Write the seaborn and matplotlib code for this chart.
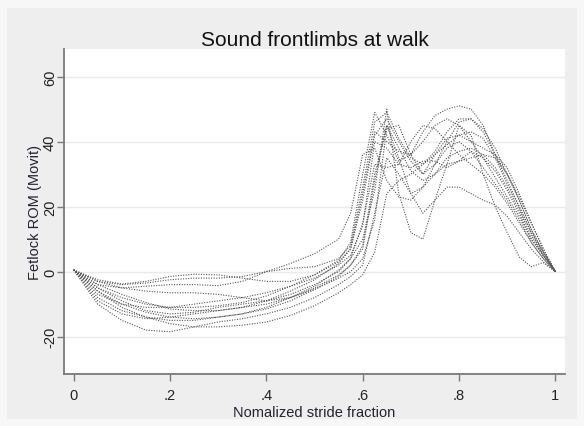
import matplotlib
matplotlib.use("Agg")
import matplotlib.pyplot as plt
import matplotlib.patches as mpatches
import numpy as np
import pandas as pd
import seaborn as sns

# Normalised stride fraction at which each trial was sampled
stride = [0, .05, .1, .15, .2, .25, .3, .35, .4, .45, .5, .55, .575, .6, .625,
          .65, .675, .7, .725, .75, .775, .8, .825, .85, .875, .9, .925, .95, .975, 1]

# Fetlock range of motion (degrees) for each trial
trial_a = [0.5, -6, -10, -12.5, -14, -14.5, -14, -13, -11, -8, -4.5, 0.5, 4, 10, 25,
           50, 24, 12, 10, 22, 33, 45, 42, 30, 20, 12, 4.5, 1.5, 2.8, 0]
trial_b = [0.5, -5, -8, -10, -11, -11, -10.5, -9.5, -7.5, -4.5, -1, 3.5, 9, 30, 49,
           42, 34, 36, 43, 48, 50, 51, 50, 45, 36, 30, 23, 15, 7, 0]
trial_c = [0.5, -8, -12, -14, -15, -15, -14, -13, -11.5, -9, -5.5, -1.5, 2, 8, 30,
           45, 35, 24, 18, 22, 26, 26, 24, 22, 20.5, 17, 12, 7, 3, 0]
trial_d = [0.5, -4, -7, -9.5, -11.5, -12, -12, -11, -9, -6, -2.5, 2.5, 7, 24, 43,
           40, 37, 36, 40, 45, 47, 45, 40, 35, 29, 23, 17, 10, 5, 0]
trial_e = [0.5, -3, -4, -3.5, -2.5, -2, -2, -1.5, 0, 2.5, 5.5, 10, 18, 36, 38,
           28, 23, 22, 26, 33, 40, 46, 47, 44, 38, 30, 22, 13, 6, 0]
trial_f = [0.5, -5, -9, -12, -13, -12.5, -11, -10, -9, -7, -4, 0, 4, 15, 33,
           32, 33, 40, 45, 44, 40, 36, 33, 30, 26, 21, 15, 9, 4, 0]
trial_g = [0.5, -6, -11, -14, -16, -17, -17, -16.5, -15.5, -13.5, -10.5, -6.5, -4, -1, 6,
           24, 28, 30, 33, 36, 39, 42, 43, 41, 35, 27, 20, 12, 5, 0]
trial_h = [0.5, -3, -5, -6, -6.5, -6.5, -7, -8, -9, -8, -5, -1, 2, 7, 28,
           45, 38, 31, 28, 30, 33, 34, 35, 36, 35, 30, 22, 13, 6, 0]
trial_i = [0.5, -7, -10, -11, -11, -10, -9, -8, -6.5, -4.5, -2, 2, 5, 14, 40,
           38, 33, 32, 34, 34, 32, 34, 37, 35, 31, 25, 18, 10, 5, 0]
trial_j = [0.5, -9, -13, -14.5, -14, -13, -12, -11, -10, -8, -5.5, -2, 0, 4, 16,
           44, 45, 36, 30, 33, 38, 40, 37, 32, 27, 22, 16, 9, 4, 0]
trial_k = [0.5, -10, -15, -18, -18.5, -17, -15.5, -14.5, -13, -11, -8, -4, -1.5, 2, 18,
           35, 30, 24, 26, 30, 35, 37, 38, 36, 32, 26, 19, 11, 5, 0]
trial_l = [0.5, -2.5, -3.8, -3, -1.5, -0.8, -1, -2, -3, -3, -1, 3, 7, 22, 42,
           47, 40, 34, 30, 36, 41, 42, 40, 38, 36, 32, 24, 15, 7, 0]
trial_m = [0.5, -4, -5, -4.5, -4, -4, -4.3, -3, 0, 1, 1.5, 4, 8, 26, 46,
           49, 41, 35, 33, 37, 43, 47, 47, 43, 36, 28, 20, 12, 6, 0]

trials = {"A": trial_a, "B": trial_b, "C": trial_c, "D": trial_d, "E": trial_e,
          "F": trial_f, "G": trial_g, "H": trial_h, "I": trial_i, "J": trial_j,
          "K": trial_k, "L": trial_l, "M": trial_m}

df = pd.concat(
    [pd.DataFrame({"stride": stride, "rom": vals, "trial": name})
     for name, vals in trials.items()],
    ignore_index=True,
)

sns.set_style("white")
plt.rcParams["font.family"] = ["Liberation Sans", "DejaVu Sans"]

fig = plt.figure(figsize=(5.84, 4.27), dpi=100, facecolor="#f7f7f7")
# graph region panel behind the plot
fig.patches.append(mpatches.Rectangle((7 / 584, 7 / 427), 570 / 584, 411 / 427,
                                      transform=fig.transFigure, facecolor="#eeeeee",
                                      edgecolor="none", zorder=-5))
ax = fig.add_axes([64 / 584, 52 / 427, 501 / 584, 325 / 427])
ax.set_zorder(2)
ax.set_facecolor("white")

sns.lineplot(data=df, x="stride", y="rom", units="trial", estimator=None,
             color="#555555", linewidth=0.8, linestyle=(0, (1, 1.3)), ax=ax,
             legend=False)

ax.set_xlim(-0.02, 1.02)
ax.set_ylim(-31.5, 68.5)
ax.set_xticks([0, .2, .4, .6, .8, 1])
ax.set_xticklabels(["0", ".2", ".4", ".6", ".8", "1"])
ax.set_yticks([-20, 0, 20, 40, 60])
ax.set_yticklabels(["-20", "0", "20", "40", "60"], rotation=90, va="center")
ax.yaxis.grid(True, color="#eaeaea", linewidth=1.0)
ax.set_axisbelow(True)

for side in ("top", "right"):
    ax.spines[side].set_visible(False)
for side in ("left", "bottom"):
    ax.spines[side].set_color("#7a7a7a")
    ax.spines[side].set_linewidth(1.3)
ax.tick_params(axis="both", direction="out", length=5, width=1, color="#7a7a7a",
               labelsize=10.5, labelcolor="#222222", left=True, bottom=True)
ax.tick_params(axis="y", pad=0)
ax.tick_params(axis="x", pad=5)

ax.set_xlabel("Nomalized stride fraction", fontsize=10.5, color="#222233", labelpad=2)
ax.set_ylabel("Fetlock ROM (Movit)", fontsize=10.5, color="#222233", labelpad=1)
ax.set_title("Sound frontlimbs at walk", fontsize=15, color="#111111", pad=3)

fig.savefig("out.png", dpi=100, facecolor=fig.get_facecolor())
